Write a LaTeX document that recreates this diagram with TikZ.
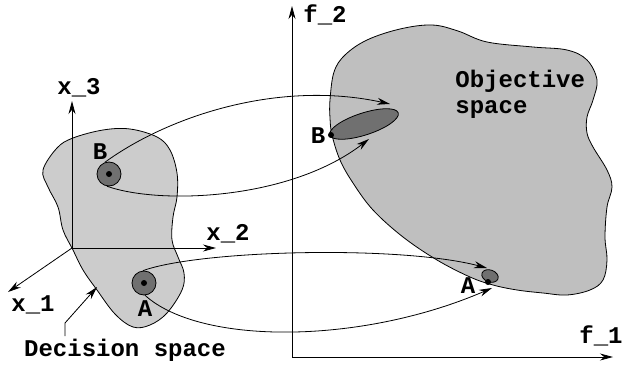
\documentclass[tikz,border=0pt]{standalone}
\usepackage{fontspec}
\setmonofont{Liberation Mono}
\usepackage{tikz}
\usetikzlibrary{arrows.meta,shapes.geometric}
\definecolor{decfill}{gray}{0.8}
\definecolor{objfill}{gray}{0.75}
\definecolor{spotfill}{gray}{0.44}
\tikzset{lbl/.style={draw=none, fill=none, inner sep=0pt,
  font=\ttfamily\bfseries\fontsize{24}{27}\selectfont},
  ring/.style={circle, draw, fill=spotfill, minimum size=24pt, inner sep=0pt},
  pnt/.style={circle, draw=none, fill=black, minimum size=6pt, inner sep=0pt},
  spot/.style={ellipse, draw, fill=spotfill, inner sep=0pt}}

\begin{document}
\begin{tikzpicture}[x=1pt, y=-1pt, >={Stealth[length=13pt, width=7pt]},
  line width=0.8pt]
  \useasboundingbox (0,0) rectangle (626,369);
  % the two regions
  \draw[fill=decfill] plot[smooth cycle, tension=0.6] coordinates {
    (43,170) (57,148) (73,138) (103,130) (130,129) (157,137) (170,150)
    (177,173) (177,197) (173,217) (172,240) (178,257) (184,273) (182,290)
    (167,313) (150,325) (133,327) (115,314) (97,290) (83,270) (73,250)
    (63,230) (58,207) (48,187)};
  \draw[fill=objfill] plot[smooth cycle, tension=0.6] coordinates {
    (330,100) (334,72) (345,55) (367,40) (400,29) (432,25) (458,31)
    (487,42) (533,47) (567,50) (587,60) (597,80) (593,100) (587,117)
    (587,133) (593,147) (607,170) (612,187) (607,207) (605,237) (607,260)
    (603,280) (590,290) (567,295) (543,293) (517,290) (493,285) (470,277)
    (437,260) (403,237) (373,210) (353,183) (340,160) (332,135) (330,118)};

  % decision space axes
  \coordinate (o1) at (72,248);
  \coordinate (x1end) at (8,292);
  \coordinate (x2end) at (216,248);
  \coordinate (x3end) at (72,101);
  \draw[->] (o1) -- (x3end);
  \draw[->] (o1) -- (x2end);
  \draw[->] (o1) -- (x1end);
  \node[lbl] (x3) at (79,88)  {x\_3};
  \node[lbl] (x2) at (228,234) {x\_2};
  \node[lbl] (x1) at (33,305) {x\_1};

  % objective space axes
  \coordinate (o2) at (292,357);
  \coordinate (f1end) at (613,357);
  \coordinate (f2end) at (292,6);
  \draw[<->] (f2end) -- (o2) -- (f1end);
  \node[lbl] (f2) at (325,15)  {f\_2};
  \node[lbl] (f1) at (601,336) {f\_1};

  \node[lbl] (ds) at (125,350) {Decision space};
  \node[lbl, anchor=base west] (obj1) at (455,87)  {Objective};
  \node[lbl, anchor=base west] (obj2) at (455,113) {space};
  \coordinate (dsfoot) at (65,336);
  \coordinate (dsbend) at (65,323);
  \coordinate (dstip) at (97,287);
  \draw[->] (dsfoot) -- (dsbend) -- (dstip);

  % points and their images
  \node[ring] (dB) at (109,174) {};
  \node[pnt] (dBc) at (dB) {};
  \node[ring] (dA) at (144,283) {};
  \node[pnt] (dAc) at (dA) {};
  \node[lbl] (lB) at (100,152) {B};
  \node[lbl] (lA) at (145,309) {A};
  \node[spot, minimum width=72pt, minimum height=22pt, rotate=18] (fB)
    at (364,124) {};
  \node[spot, minimum width=17pt, minimum height=12pt, rotate=-20] (fA)
    at (490,276) {};
  \node[pnt] (fBc) at (331,135) {};
  \node[pnt] (fAc) at (488,282) {};
  \node[lbl] (rB) at (318,136) {B};
  \node[lbl] (rA) at (468,286) {A};

  \coordinate (fBup) at (390,104);
  \coordinate (fBlow) at (369,139);
  \coordinate (fAup) at (487,268);
  \coordinate (fAlow) at (492,288);
  \draw[->] (dB.110) .. controls (170,115) and (280,80) .. (fBup);
  \draw[->] (dB.260) .. controls (160,205) and (290,200) .. (fBlow);
  \draw[->] (dA.95) .. controls (200,250) and (400,245) .. (fAup);
  \draw[->] (dA.275) .. controls (200,345) and (360,345) .. (fAlow);
\end{tikzpicture}
\end{document}
